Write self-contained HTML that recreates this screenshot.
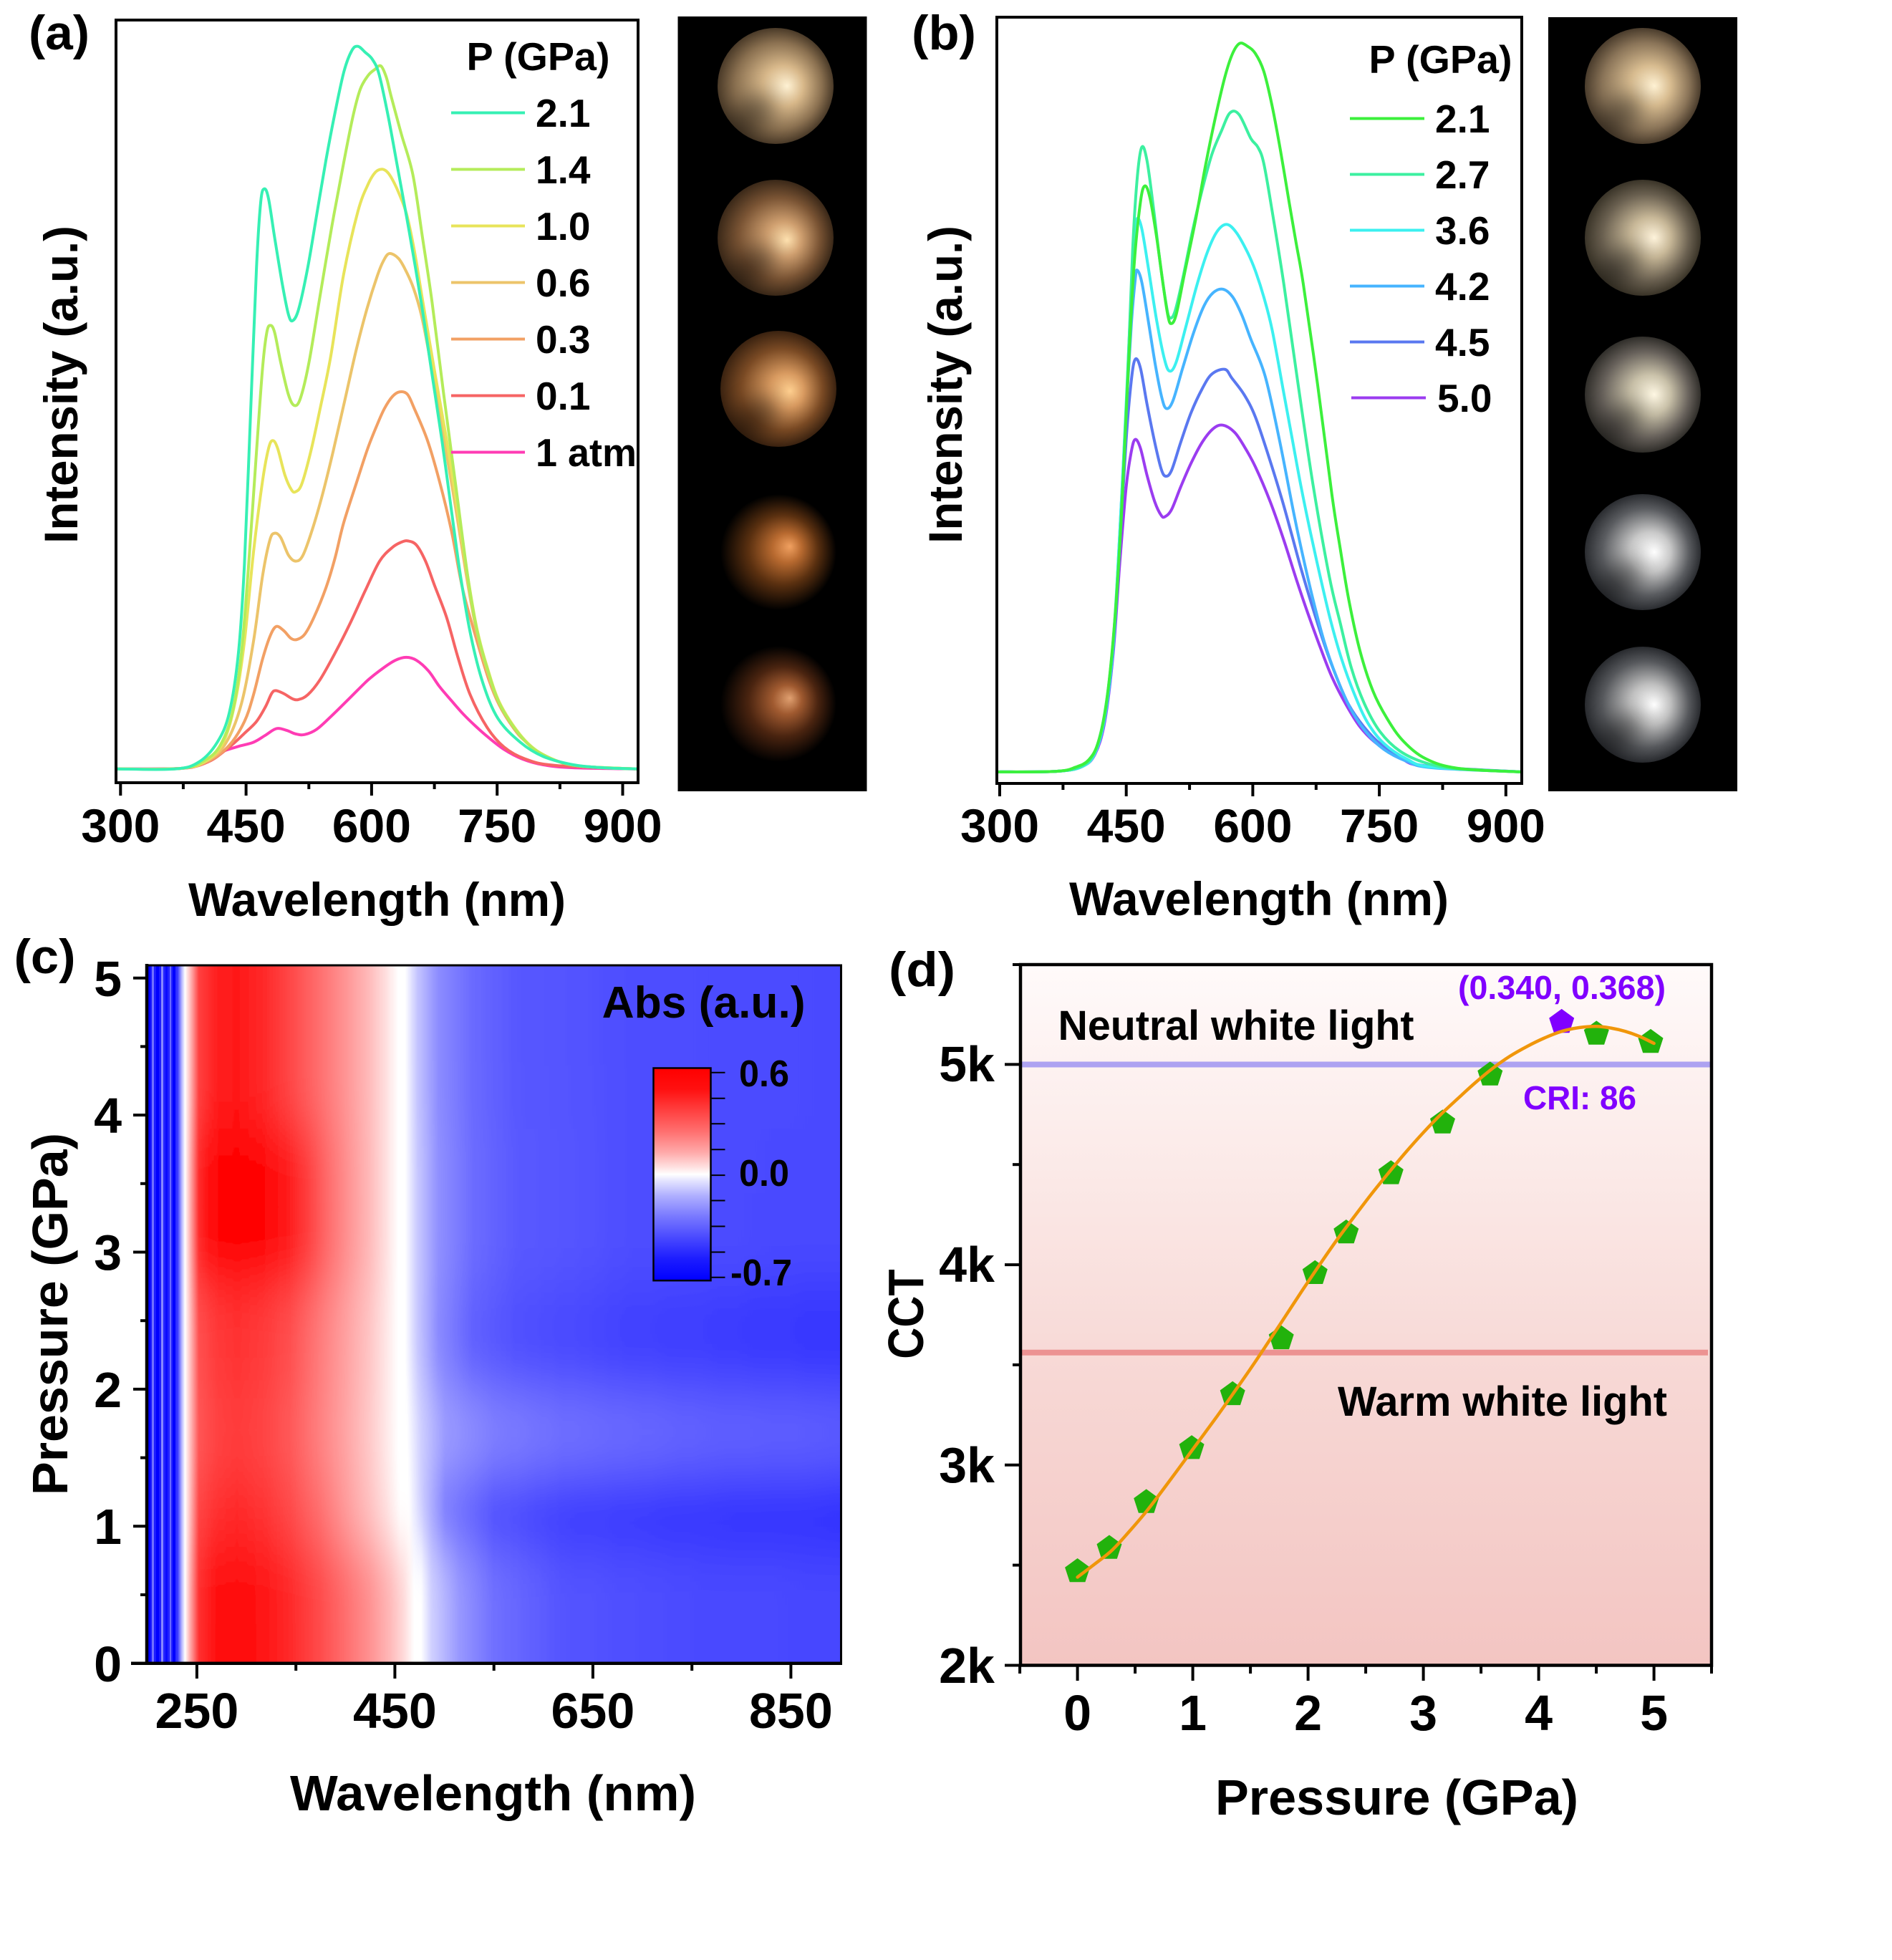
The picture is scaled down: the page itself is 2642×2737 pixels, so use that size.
<!DOCTYPE html>
<html><head><meta charset="utf-8"><style>
html,body{margin:0;padding:0;background:#fff;}
svg{display:block;}
text{font-family:"Liberation Sans",Arial,sans-serif;font-weight:bold;fill:#000;}
</style></head><body>
<svg xmlns="http://www.w3.org/2000/svg" width="2642" height="2737" viewBox="0 0 2642 2737">
<defs>
<clipPath id="clipA"><rect x="162" y="28" width="729" height="1065"/></clipPath>
<clipPath id="clipB"><rect x="1392" y="24" width="733" height="1070"/></clipPath>
<clipPath id="clipC"><rect x="205" y="1348" width="969.5" height="975"/></clipPath>
<clipPath id="clipD"><rect x="1425" y="1347" width="965" height="978"/></clipPath>
<filter id="vb" filterUnits="userSpaceOnUse" x="150" y="1100" width="1100" height="1450"><feGaussianBlur stdDeviation="0 40"/></filter>
<filter id="sb" x="-50%" y="-50%" width="200%" height="200%"><feGaussianBlur stdDeviation="14"/></filter>

<linearGradient id="gTop" x1="0" y1="0" x2="1" y2="0">
<stop offset="0" stop-color="#1a1aff"/><stop offset="0.035" stop-color="#2424ff"/><stop offset="0.044" stop-color="#3232ff"/><stop offset="0.05" stop-color="#b0b0ff"/><stop offset="0.055" stop-color="#ffffff"/><stop offset="0.062" stop-color="#ffc0c0"/><stop offset="0.075" stop-color="#ff4040"/><stop offset="0.1" stop-color="#ff2020"/><stop offset="0.13" stop-color="#ff1818"/><stop offset="0.17" stop-color="#ff2a2a"/><stop offset="0.207" stop-color="#ff4848"/><stop offset="0.25" stop-color="#ff7070"/><stop offset="0.286" stop-color="#ff9494"/><stop offset="0.32" stop-color="#ffbaba"/><stop offset="0.345" stop-color="#ffe0e0"/><stop offset="0.362" stop-color="#ffffff"/><stop offset="0.372" stop-color="#ffffff"/><stop offset="0.39" stop-color="#c4c4ff"/><stop offset="0.42" stop-color="#8c8cff"/><stop offset="0.47" stop-color="#6a6aff"/><stop offset="0.53" stop-color="#5858ff"/><stop offset="0.7" stop-color="#4e4eff"/><stop offset="1" stop-color="#4a4aff"/>
</linearGradient>
<linearGradient id="gStrong" x1="0" y1="0" x2="1" y2="0">
<stop offset="0" stop-color="#1a1aff"/><stop offset="0.035" stop-color="#2424ff"/><stop offset="0.044" stop-color="#3232ff"/><stop offset="0.05" stop-color="#b0b0ff"/><stop offset="0.055" stop-color="#ffffff"/><stop offset="0.062" stop-color="#ffb4b4"/><stop offset="0.075" stop-color="#ff2c2c"/><stop offset="0.09" stop-color="#ff0e0e"/><stop offset="0.11" stop-color="#ff0202"/><stop offset="0.16" stop-color="#ff0000"/><stop offset="0.2" stop-color="#ff1818"/><stop offset="0.23" stop-color="#ff3c3c"/><stop offset="0.26" stop-color="#ff6a6a"/><stop offset="0.29" stop-color="#ff9292"/><stop offset="0.32" stop-color="#ffb8b8"/><stop offset="0.345" stop-color="#ffe0e0"/><stop offset="0.362" stop-color="#ffffff"/><stop offset="0.372" stop-color="#ffffff"/><stop offset="0.39" stop-color="#c8c8ff"/><stop offset="0.42" stop-color="#9090ff"/><stop offset="0.47" stop-color="#6c6cff"/><stop offset="0.53" stop-color="#5a5aff"/><stop offset="0.7" stop-color="#4e4eff"/><stop offset="1" stop-color="#4848ff"/>
</linearGradient>
<linearGradient id="gMidDark" x1="0" y1="0" x2="1" y2="0">
<stop offset="0" stop-color="#1a1aff"/><stop offset="0.035" stop-color="#2424ff"/><stop offset="0.044" stop-color="#3232ff"/><stop offset="0.05" stop-color="#b0b0ff"/><stop offset="0.055" stop-color="#ffffff"/><stop offset="0.062" stop-color="#ffc4c4"/><stop offset="0.075" stop-color="#ff5050"/><stop offset="0.1" stop-color="#ff3a3a"/><stop offset="0.13" stop-color="#ff3232"/><stop offset="0.17" stop-color="#ff3c3c"/><stop offset="0.207" stop-color="#ff5050"/><stop offset="0.25" stop-color="#ff7c7c"/><stop offset="0.286" stop-color="#ffa0a0"/><stop offset="0.32" stop-color="#ffc4c4"/><stop offset="0.345" stop-color="#ffe6e6"/><stop offset="0.362" stop-color="#ffffff"/><stop offset="0.372" stop-color="#ffffff"/><stop offset="0.39" stop-color="#c8c8ff"/><stop offset="0.42" stop-color="#8a8aff"/><stop offset="0.47" stop-color="#6060ff"/><stop offset="0.53" stop-color="#5050ff"/><stop offset="0.7" stop-color="#4040ff"/><stop offset="1" stop-color="#3434ff"/>
</linearGradient>
<linearGradient id="gMidLight" x1="0" y1="0" x2="1" y2="0">
<stop offset="0" stop-color="#1a1aff"/><stop offset="0.035" stop-color="#2424ff"/><stop offset="0.044" stop-color="#3232ff"/><stop offset="0.05" stop-color="#b0b0ff"/><stop offset="0.055" stop-color="#ffffff"/><stop offset="0.062" stop-color="#ffc4c4"/><stop offset="0.075" stop-color="#ff5656"/><stop offset="0.1" stop-color="#ff4444"/><stop offset="0.13" stop-color="#ff3c3c"/><stop offset="0.17" stop-color="#ff4646"/><stop offset="0.207" stop-color="#ff5a5a"/><stop offset="0.25" stop-color="#ff8282"/><stop offset="0.286" stop-color="#ffa4a4"/><stop offset="0.32" stop-color="#ffc8c8"/><stop offset="0.345" stop-color="#ffe8e8"/><stop offset="0.362" stop-color="#ffffff"/><stop offset="0.375" stop-color="#ffffff"/><stop offset="0.395" stop-color="#d0d0ff"/><stop offset="0.43" stop-color="#9c9cff"/><stop offset="0.5" stop-color="#8080ff"/><stop offset="0.6" stop-color="#7070ff"/><stop offset="0.8" stop-color="#6262ff"/><stop offset="1" stop-color="#5c5cff"/>
</linearGradient>
<linearGradient id="gDark" x1="0" y1="0" x2="1" y2="0">
<stop offset="0" stop-color="#1a1aff"/><stop offset="0.035" stop-color="#2424ff"/><stop offset="0.044" stop-color="#3232ff"/><stop offset="0.05" stop-color="#b0b0ff"/><stop offset="0.055" stop-color="#ffffff"/><stop offset="0.062" stop-color="#ffc0c0"/><stop offset="0.075" stop-color="#ff4444"/><stop offset="0.1" stop-color="#ff3030"/><stop offset="0.13" stop-color="#ff2828"/><stop offset="0.17" stop-color="#ff3434"/><stop offset="0.207" stop-color="#ff4a4a"/><stop offset="0.25" stop-color="#ff7070"/><stop offset="0.286" stop-color="#ff9a9a"/><stop offset="0.32" stop-color="#ffc0c0"/><stop offset="0.345" stop-color="#ffe0e0"/><stop offset="0.365" stop-color="#ffffff"/><stop offset="0.378" stop-color="#ffffff"/><stop offset="0.4" stop-color="#c0c0ff"/><stop offset="0.43" stop-color="#7878ff"/><stop offset="0.5" stop-color="#4c4cff"/><stop offset="0.6" stop-color="#3a3aff"/><stop offset="0.8" stop-color="#3030ff"/><stop offset="1" stop-color="#2c2cff"/>
</linearGradient>
<linearGradient id="gBottom" x1="0" y1="0" x2="1" y2="0">
<stop offset="0" stop-color="#1a1aff"/><stop offset="0.035" stop-color="#2424ff"/><stop offset="0.044" stop-color="#3232ff"/><stop offset="0.05" stop-color="#b0b0ff"/><stop offset="0.055" stop-color="#ffffff"/><stop offset="0.062" stop-color="#ffb0b0"/><stop offset="0.075" stop-color="#ff3030"/><stop offset="0.1" stop-color="#ff1010"/><stop offset="0.13" stop-color="#ff0808"/><stop offset="0.17" stop-color="#ff1616"/><stop offset="0.207" stop-color="#ff2a2a"/><stop offset="0.25" stop-color="#ff4c4c"/><stop offset="0.286" stop-color="#ff6e6e"/><stop offset="0.32" stop-color="#ff9090"/><stop offset="0.35" stop-color="#ffb8b8"/><stop offset="0.37" stop-color="#ffdada"/><stop offset="0.385" stop-color="#ffffff"/><stop offset="0.395" stop-color="#ffffff"/><stop offset="0.41" stop-color="#d0d0ff"/><stop offset="0.45" stop-color="#9898ff"/><stop offset="0.5" stop-color="#7070ff"/><stop offset="0.6" stop-color="#5454ff"/><stop offset="0.8" stop-color="#4a4aff"/><stop offset="1" stop-color="#4646ff"/>
</linearGradient>

<linearGradient id="cbar" x1="0" y1="0" x2="0" y2="1">
<stop offset="0" stop-color="#ff0000"/><stop offset="0.1" stop-color="#ff1010"/><stop offset="0.2" stop-color="#ff4040"/><stop offset="0.3" stop-color="#ff7070"/><stop offset="0.4" stop-color="#ffacac"/><stop offset="0.47" stop-color="#ffe4e4"/><stop offset="0.5" stop-color="#ffffff"/><stop offset="0.53" stop-color="#e4e4ff"/><stop offset="0.6" stop-color="#b0b0ff"/><stop offset="0.7" stop-color="#7878ff"/><stop offset="0.8" stop-color="#4848ff"/><stop offset="0.9" stop-color="#1c1cff"/><stop offset="1" stop-color="#0000ff"/>
</linearGradient>

<linearGradient id="dbg" x1="0" y1="0" x2="0" y2="1">
<stop offset="0" stop-color="#fffafa"/><stop offset="0.3" stop-color="#fbe9e7"/><stop offset="0.6" stop-color="#f7d7d4"/><stop offset="1" stop-color="#f3c5c2"/>
</linearGradient>

<radialGradient id="pa1" cx="0.5" cy="0.5" r="0.5" fx="0.6" fy="0.5"><stop offset="0" stop-color="#fff2d4"/><stop offset="0.35" stop-color="#d8b88a"/><stop offset="0.75" stop-color="#8a7050"/><stop offset="1" stop-color="#4a3a28"/></radialGradient>
<radialGradient id="pa2" cx="0.5" cy="0.5" r="0.5" fx="0.6" fy="0.52"><stop offset="0" stop-color="#ffe2b0"/><stop offset="0.3" stop-color="#d0a070"/><stop offset="0.7" stop-color="#7a5434"/><stop offset="1" stop-color="#3a2818"/></radialGradient>
<radialGradient id="pa3" cx="0.5" cy="0.5" r="0.5" fx="0.6" fy="0.52"><stop offset="0" stop-color="#ffd090"/><stop offset="0.3" stop-color="#d89a60"/><stop offset="0.7" stop-color="#7a4a24"/><stop offset="1" stop-color="#3a2210"/></radialGradient>
<radialGradient id="pa4" cx="0.5" cy="0.5" r="0.5" fx="0.6" fy="0.45"><stop offset="0" stop-color="#f0a060"/><stop offset="0.25" stop-color="#b86a30"/><stop offset="0.6" stop-color="#5a3010"/><stop offset="1" stop-color="#000000"/></radialGradient>
<radialGradient id="pa5" cx="0.5" cy="0.5" r="0.5" fx="0.6" fy="0.45"><stop offset="0" stop-color="#e0a070"/><stop offset="0.25" stop-color="#a05a30"/><stop offset="0.6" stop-color="#4a2410"/><stop offset="1" stop-color="#000000"/></radialGradient>
<radialGradient id="pb1" cx="0.5" cy="0.5" r="0.5" fx="0.6" fy="0.5"><stop offset="0" stop-color="#fff2d4"/><stop offset="0.35" stop-color="#d8bc90"/><stop offset="0.75" stop-color="#8a7458"/><stop offset="1" stop-color="#4a3c2c"/></radialGradient>
<radialGradient id="pb2" cx="0.5" cy="0.5" r="0.5" fx="0.6" fy="0.5"><stop offset="0" stop-color="#fff4dc"/><stop offset="0.35" stop-color="#c8b898"/><stop offset="0.75" stop-color="#6a6050"/><stop offset="1" stop-color="#3a3428"/></radialGradient>
<radialGradient id="pb3" cx="0.5" cy="0.5" r="0.5" fx="0.6" fy="0.5"><stop offset="0" stop-color="#fff8e4"/><stop offset="0.35" stop-color="#c8c0a8"/><stop offset="0.75" stop-color="#66605a"/><stop offset="1" stop-color="#302e2a"/></radialGradient>
<radialGradient id="pb4" cx="0.5" cy="0.5" r="0.5" fx="0.6" fy="0.5"><stop offset="0" stop-color="#ffffff"/><stop offset="0.35" stop-color="#c8c8c8"/><stop offset="0.75" stop-color="#5a5c60"/><stop offset="1" stop-color="#2a2c30"/></radialGradient>
<radialGradient id="pb5" cx="0.5" cy="0.5" r="0.5" fx="0.6" fy="0.5"><stop offset="0" stop-color="#ffffff"/><stop offset="0.35" stop-color="#c0c0c0"/><stop offset="0.75" stop-color="#56585c"/><stop offset="1" stop-color="#282a2e"/></radialGradient>

<path id="pg" d="M0,-18.4 L17.5,-5.7 L10.8,14.9 L-10.8,14.9 L-17.5,-5.7Z"/>
</defs>

<rect x="0" y="0" width="2642" height="2737" fill="#fff"/>

<!-- ============ PANEL A ============ -->
<g clip-path="url(#clipA)">
<g transform="matrix(0.84282 0 0 0.82919 0 0)" fill="none" stroke-width="4" stroke-linejoin="round" stroke-linecap="round">
<polyline class="sm" vector-effect="non-scaling-stroke" stroke="#ff3cb4" points="193,1295 300,1294 330,1288 350,1275 370,1265 395,1257 420,1250 440,1238 458,1227 475,1230 490,1236 505,1237 525,1228 550,1205 580,1175 610,1145 635,1125 655,1112 673,1107 690,1112 710,1130 728,1156 748,1180 767,1202 787,1222 807,1240 835,1262 865,1278 900,1288 950,1293 1058,1295"/>
<polyline class="sm" vector-effect="non-scaling-stroke" stroke="#f66464" points="193,1295 300,1294 345,1283 380,1258 405,1235 425,1215 440,1190 450,1168 457,1163 470,1168 485,1177 495,1178 510,1170 530,1145 555,1100 580,1050 605,995 629,945 650,922 665,913 676,911 690,918 705,945 720,986 740,1040 759,1108 779,1170 807,1225 835,1258 870,1278 920,1289 1058,1295"/>
<polyline class="sm" vector-effect="non-scaling-stroke" stroke="#f2a064" points="193,1295 300,1294 345,1282 380,1255 405,1215 420,1170 435,1110 448,1070 458,1055 470,1062 482,1075 492,1077 505,1068 520,1040 540,990 555,940 569,882 590,815 609,756 625,715 637,688 650,668 662,660 675,664 686,687 708,741 728,810 748,894 767,994 791,1082 810,1145 827,1187 850,1225 870,1248 905,1274 960,1290 1058,1295"/>
<polyline class="sm" vector-effect="non-scaling-stroke" stroke="#ecc46a" points="193,1295 300,1294 345,1280 375,1250 400,1185 420,1080 435,970 447,910 455,898 465,905 478,935 490,945 502,935 518,890 535,830 552,760 570,680 590,590 608,520 625,465 635,440 645,427 660,435 672,455 685,485 698,530 712,602 736,741 755,856 772,965 788,1055 805,1122 828,1186 868,1246 910,1276 960,1290 1058,1295"/>
<polyline class="sm" vector-effect="non-scaling-stroke" stroke="#e8e45a" points="193,1295 300,1294 340,1282 370,1250 390,1180 405,1080 420,930 435,810 445,755 452,742 460,755 472,800 483,825 490,828 500,815 515,760 530,690 548,600 569,464 593,356 610,310 622,290 632,285 641,289 650,302 662,328 674,362 687,425 700,505 720,625 740,741 757,850 775,971 790,1058 807,1123 830,1188 870,1247 910,1276 960,1290 1058,1295"/>
<polyline class="sm" vector-effect="non-scaling-stroke" stroke="#b4ec5a" points="193,1295 300,1294 340,1280 365,1255 385,1200 400,1100 412,950 425,760 435,620 442,560 448,548 455,560 465,610 478,665 488,683 498,670 512,610 530,500 550,380 570,271 585,195 597,150 610,127 621,117 631,111 640,130 648,162 665,226 684,294 700,400 716,510 735,663 755,817 775,971 790,1060 807,1125 830,1190 870,1248 910,1276 960,1290 1058,1295"/>
<polyline class="sm" vector-effect="non-scaling-stroke" stroke="#36f0b4" points="193,1295 290,1295 330,1283 360,1250 380,1200 395,1100 405,950 415,700 425,450 432,340 438,318 445,335 455,400 468,480 478,530 485,540 495,520 510,450 525,360 540,270 555,190 570,120 583,85 593,78 605,88 617,100 628,125 643,195 658,278 678,390 698,510 715,625 732,740 748,860 763,970 780,1070 800,1150 825,1210 862,1250 900,1274 950,1288 1000,1293 1058,1295"/>
</g>
</g>
<rect x="162" y="28" width="729" height="1065" fill="none" stroke="#000" stroke-width="4"/>
<g stroke="#000" stroke-width="4">
<line x1="168.3" y1="1093" x2="168.3" y2="1111"/><line x1="255.9" y1="1093" x2="255.9" y2="1102"/>
<line x1="343.6" y1="1093" x2="343.6" y2="1111"/><line x1="431.3" y1="1093" x2="431.3" y2="1102"/>
<line x1="518.9" y1="1093" x2="518.9" y2="1111"/><line x1="606.6" y1="1093" x2="606.6" y2="1102"/>
<line x1="694.2" y1="1093" x2="694.2" y2="1111"/><line x1="781.9" y1="1093" x2="781.9" y2="1102"/>
<line x1="869.5" y1="1093" x2="869.5" y2="1111"/>
</g>
<g font-size="66" text-anchor="middle">
<text x="168.3" y="1176">300</text><text x="343.6" y="1176">450</text><text x="518.9" y="1176">600</text><text x="694.2" y="1176">750</text><text x="869.5" y="1176">900</text>
</g>
<text x="263" y="1279" font-size="66" textLength="527" lengthAdjust="spacingAndGlyphs">Wavelength (nm)</text>
<text transform="translate(108,537) rotate(-90)" x="-222" y="0" font-size="66" textLength="444" lengthAdjust="spacingAndGlyphs">Intensity (a.u.)</text>
<text x="40" y="69" font-size="68" textLength="85" lengthAdjust="spacingAndGlyphs">(a)</text>
<!-- legend a -->
<text x="651.5" y="98" font-size="55" textLength="200" lengthAdjust="spacingAndGlyphs">P (GPa)</text>
<g stroke-width="4">
<line x1="630" y1="157.5" x2="733" y2="157.5" stroke="#36f0b4"/>
<line x1="630" y1="236.5" x2="733" y2="236.5" stroke="#b4ec5a"/>
<line x1="630" y1="315.5" x2="733" y2="315.5" stroke="#e8e45a"/>
<line x1="630" y1="394.5" x2="733" y2="394.5" stroke="#ecc46a"/>
<line x1="630" y1="473.5" x2="733" y2="473.5" stroke="#f2a064"/>
<line x1="630" y1="552.5" x2="733" y2="552.5" stroke="#f66464"/>
<line x1="630" y1="631.5" x2="733" y2="631.5" stroke="#ff3cb4"/>
</g>
<g font-size="55">
<text x="748" y="177">2.1</text><text x="748" y="256">1.4</text><text x="748" y="335">1.0</text><text x="748" y="414">0.6</text><text x="748" y="493">0.3</text><text x="748" y="572">0.1</text><text x="748" y="651" textLength="141" lengthAdjust="spacingAndGlyphs">1 atm</text>
</g>
<!-- photo a -->
<rect x="946.5" y="23" width="264" height="1082" fill="#000"/>
<circle cx="1083" cy="120" r="81" fill="url(#pa1)"/>
<circle cx="1083" cy="332" r="81" fill="url(#pa2)"/>
<circle cx="1087" cy="543" r="81" fill="url(#pa3)"/>
<circle cx="1087" cy="771" r="81" fill="url(#pa4)"/>
<circle cx="1087" cy="983" r="81" fill="url(#pa5)"/>
<g fill="#000" opacity="0.35" filter="url(#sb)">
<ellipse cx="1050" cy="160" rx="38" ry="24" transform="rotate(-40 1050 160)"/>
<ellipse cx="1050" cy="372" rx="38" ry="24" transform="rotate(-40 1050 372)"/>
<ellipse cx="1054" cy="583" rx="38" ry="24" transform="rotate(-40 1054 583)"/>
</g>

<!-- ============ PANEL B ============ -->
<g clip-path="url(#clipB)">
<g transform="matrix(0.90621 0 0 0.82919 1221 0)" fill="none" stroke-width="4" stroke-linejoin="round" stroke-linecap="round">
<polyline class="sm" vector-effect="non-scaling-stroke" stroke="#9b3cf0" points="189,1300 280,1299 320,1291 340,1270 355,1215 368,1100 378,950 388,820 396,760 402,740 410,755 420,800 432,845 442,868 448,870 458,858 472,820 488,780 505,745 522,722 537,716 555,728 570,752 587,786 610,845 631,910 650,975 668,1033 687,1090 705,1140 727,1187 749,1225 775,1253 810,1276 850,1291 998,1300"/>
<polyline class="sm" vector-effect="non-scaling-stroke" stroke="#5a78f0" points="189,1300 280,1299 320,1291 340,1268 355,1210 368,1095 378,920 388,740 396,640 402,605 410,620 420,680 432,745 442,790 449,802 458,792 472,745 488,695 505,655 520,630 540,622 551,637 570,665 587,702 608,770 628,841 643,900 657,956 675,1022 694,1087 712,1140 731,1187 755,1225 780,1253 810,1273 850,1290 998,1300"/>
<polyline class="sm" vector-effect="non-scaling-stroke" stroke="#46b4ff" points="189,1300 280,1299 320,1291 340,1268 355,1210 368,1090 378,900 388,690 396,545 402,470 405,455 412,475 422,540 433,615 443,670 450,688 460,675 475,620 492,560 508,515 522,493 537,487 552,500 566,530 580,571 602,633 624,740 646,863 660,935 676,1010 693,1080 712,1140 733,1192 757,1232 785,1262 820,1282 860,1293 998,1300"/>
<polyline class="sm" vector-effect="non-scaling-stroke" stroke="#3cf0f0" points="189,1300 280,1299 320,1291 340,1268 355,1205 368,1080 378,900 388,680 396,490 402,400 405,368 412,385 422,450 435,540 447,605 455,625 465,610 480,550 497,480 513,425 528,390 543,378 558,392 575,425 587,456 600,500 613,556 631,663 644,740 657,817 672,897 687,971 703,1045 720,1110 740,1170 760,1217 785,1252 820,1278 860,1292 998,1300"/>
<polyline class="sm" vector-effect="non-scaling-stroke" stroke="#3cf0a0" points="189,1300 280,1299 320,1290 340,1265 355,1200 368,1080 380,880 390,640 398,420 405,300 412,248 420,270 430,350 440,440 450,515 455,535 463,525 475,470 490,390 505,320 520,260 535,220 548,190 562,193 580,233 591,248 600,275 613,356 631,479 653,648 676,817 701,971 718,1050 735,1125 755,1185 779,1232 810,1265 850,1285 900,1295 998,1300"/>
<polyline class="sm" vector-effect="non-scaling-stroke" stroke="#3cf03c" points="189,1300 280,1299 310,1292 330,1280 345,1250 358,1180 370,1050 380,880 390,650 400,450 410,340 417,313 425,335 435,400 445,480 452,530 457,545 465,530 478,460 495,370 510,280 525,200 540,130 552,90 563,73 575,78 587,90 600,120 613,179 626,255 639,340 650,410 661,479 683,648 705,833 718,925 731,1010 748,1095 768,1163 790,1210 815,1248 850,1278 900,1294 998,1300"/>
</g>
</g>
<rect x="1392" y="24" width="733" height="1070" fill="none" stroke="#000" stroke-width="4"/>
<g stroke="#000" stroke-width="4">
<line x1="1396" y1="1094" x2="1396" y2="1112"/><line x1="1484.4" y1="1094" x2="1484.4" y2="1103"/>
<line x1="1572.7" y1="1094" x2="1572.7" y2="1112"/><line x1="1661.1" y1="1094" x2="1661.1" y2="1103"/>
<line x1="1749.4" y1="1094" x2="1749.4" y2="1112"/><line x1="1837.8" y1="1094" x2="1837.8" y2="1103"/>
<line x1="1926.1" y1="1094" x2="1926.1" y2="1112"/><line x1="2014.5" y1="1094" x2="2014.5" y2="1103"/>
<line x1="2102.8" y1="1094" x2="2102.8" y2="1112"/>
</g>
<g font-size="66" text-anchor="middle">
<text x="1396" y="1176">300</text><text x="1572.7" y="1176">450</text><text x="1749.4" y="1176">600</text><text x="1926.1" y="1176">750</text><text x="2102.8" y="1176">900</text>
</g>
<text x="1493" y="1278" font-size="66" textLength="530" lengthAdjust="spacingAndGlyphs">Wavelength (nm)</text>
<text transform="translate(1343,537) rotate(-90)" x="-222" y="0" font-size="66" textLength="444" lengthAdjust="spacingAndGlyphs">Intensity (a.u.)</text>
<text x="1273" y="69" font-size="68" textLength="90" lengthAdjust="spacingAndGlyphs">(b)</text>
<!-- legend b -->
<text x="1911.5" y="102" font-size="55" textLength="200" lengthAdjust="spacingAndGlyphs">P (GPa)</text>
<g stroke-width="4">
<line x1="1885" y1="165.5" x2="1989" y2="165.5" stroke="#3cf03c"/>
<line x1="1885" y1="243.5" x2="1989" y2="243.5" stroke="#3cf0a0"/>
<line x1="1885" y1="321.5" x2="1989" y2="321.5" stroke="#3cf0f0"/>
<line x1="1885" y1="399.5" x2="1989" y2="399.5" stroke="#46b4ff"/>
<line x1="1885" y1="477.5" x2="1989" y2="477.5" stroke="#5a78f0"/>
<line x1="1887" y1="555.5" x2="1991" y2="555.5" stroke="#9b3cf0"/>
</g>
<g font-size="55">
<text x="2004" y="185">2.1</text><text x="2004" y="263">2.7</text><text x="2004" y="341">3.6</text><text x="2004" y="419">4.2</text><text x="2004" y="497">4.5</text><text x="2007" y="575">5.0</text>
</g>
<!-- photo b -->
<rect x="2162" y="24" width="264" height="1081" fill="#000"/>
<circle cx="2294" cy="120" r="81" fill="url(#pb1)"/>
<circle cx="2294" cy="332" r="81" fill="url(#pb2)"/>
<circle cx="2294" cy="551" r="81" fill="url(#pb3)"/>
<circle cx="2294" cy="771" r="81" fill="url(#pb4)"/>
<circle cx="2294" cy="984" r="81" fill="url(#pb5)"/>
<g fill="#000" opacity="0.35" filter="url(#sb)">
<ellipse cx="2262" cy="160" rx="38" ry="24" transform="rotate(-40 2262 160)"/>
<ellipse cx="2262" cy="372" rx="38" ry="24" transform="rotate(-40 2262 372)"/>
<ellipse cx="2262" cy="591" rx="38" ry="24" transform="rotate(-40 2262 591)"/>
<ellipse cx="2262" cy="811" rx="38" ry="24" transform="rotate(-40 2262 811)"/>
<ellipse cx="2262" cy="1024" rx="38" ry="24" transform="rotate(-40 2262 1024)"/>
</g>

<!-- ============ PANEL C ============ -->
<g clip-path="url(#clipC)">
<g filter="url(#vb)">
<rect x="205" y="1200" width="969.5" height="377" fill="url(#gTop)"/>
<rect x="205" y="1576" width="969.5" height="221" fill="url(#gStrong)"/>
<rect x="205" y="1796" width="969.5" height="145" fill="url(#gMidDark)"/>
<rect x="205" y="1940" width="969.5" height="125" fill="url(#gMidLight)"/>
<rect x="205" y="2064" width="969.5" height="97" fill="url(#gDark)"/>
<rect x="205" y="2160" width="969.5" height="320" fill="url(#gBottom)"/>
</g>
<g>
<rect x="206" y="1348" width="4" height="975" fill="#0000ff"/>
<rect x="212" y="1348" width="3" height="975" fill="#7070ff"/>
<rect x="218" y="1348" width="4" height="975" fill="#0000ff"/>
<rect x="225" y="1348" width="3" height="975" fill="#8888ff"/>
<rect x="231" y="1348" width="3" height="975" fill="#0a0aff"/>
<rect x="237" y="1348" width="2" height="975" fill="#6a6aff"/>
<rect x="241" y="1348" width="4" height="975" fill="#0000ff"/>
</g>
</g>
<rect x="205" y="1348" width="969.5" height="975" fill="none" stroke="#000" stroke-width="3"/>
<line x1="205" y1="1346" x2="205" y2="2325" stroke="#000" stroke-width="4.5"/>
<line x1="183" y1="2322.7" x2="1176" y2="2322.7" stroke="#000" stroke-width="4.5"/>
<g stroke="#000" stroke-width="4">
<line x1="186" y1="2322.7" x2="205" y2="2322.7"/><line x1="196" y1="2227" x2="205" y2="2227"/>
<line x1="186" y1="2131.3" x2="205" y2="2131.3"/><line x1="196" y1="2035.6" x2="205" y2="2035.6"/>
<line x1="186" y1="1939.9" x2="205" y2="1939.9"/><line x1="196" y1="1844.2" x2="205" y2="1844.2"/>
<line x1="186" y1="1748.5" x2="205" y2="1748.5"/><line x1="196" y1="1652.8" x2="205" y2="1652.8"/>
<line x1="186" y1="1557.1" x2="205" y2="1557.1"/><line x1="196" y1="1461.4" x2="205" y2="1461.4"/>
<line x1="186" y1="1365.7" x2="205" y2="1365.7"/>
<line x1="274.9" y1="2322.7" x2="274.9" y2="2344"/><line x1="413.2" y1="2322.7" x2="413.2" y2="2333"/>
<line x1="551.4" y1="2322.7" x2="551.4" y2="2344"/><line x1="689.7" y1="2322.7" x2="689.7" y2="2333"/>
<line x1="827.9" y1="2322.7" x2="827.9" y2="2344"/><line x1="966.2" y1="2322.7" x2="966.2" y2="2333"/>
<line x1="1104.4" y1="2322.7" x2="1104.4" y2="2344"/>
</g>
<g font-size="70" text-anchor="end">
<text x="170" y="2348">0</text><text x="170" y="2156">1</text><text x="170" y="1965">2</text><text x="170" y="1773">3</text><text x="170" y="1582">4</text><text x="170" y="1391">5</text>
</g>
<g font-size="70" text-anchor="middle">
<text x="274.9" y="2413">250</text><text x="551.4" y="2413">450</text><text x="827.9" y="2413">650</text><text x="1104.4" y="2413">850</text>
</g>
<text x="405" y="2528" font-size="70" textLength="567" lengthAdjust="spacingAndGlyphs">Wavelength (nm)</text>
<text transform="translate(94,1835) rotate(-90)" x="-253" y="0" font-size="70" textLength="506" lengthAdjust="spacingAndGlyphs">Pressure (GPa)</text>
<text x="19.5" y="1359" font-size="68" textLength="86" lengthAdjust="spacingAndGlyphs">(c)</text>
<text x="840.6" y="1421" font-size="62" textLength="284" lengthAdjust="spacingAndGlyphs">Abs (a.u.)</text>
<!-- colorbar -->
<rect x="912.5" y="1491.5" width="80" height="296.7" fill="url(#cbar)" stroke="#000" stroke-width="2.5"/>
<g stroke="#000" stroke-width="2">
<line x1="992.5" y1="1497.8" x2="1012.5" y2="1497.8"/><line x1="992.5" y1="1533.8" x2="1012.5" y2="1533.8"/>
<line x1="992.5" y1="1569.2" x2="1012.5" y2="1569.2"/><line x1="992.5" y1="1605.2" x2="1012.5" y2="1605.2"/>
<line x1="992.5" y1="1641.1" x2="1012.5" y2="1641.1"/><line x1="992.5" y1="1676.5" x2="1012.5" y2="1676.5"/>
<line x1="992.5" y1="1712.5" x2="1012.5" y2="1712.5"/><line x1="992.5" y1="1748.5" x2="1012.5" y2="1748.5"/>
<line x1="992.5" y1="1783.8" x2="1012.5" y2="1783.8"/>
</g>
<g font-size="52">
<text x="1032" y="1517" textLength="70" lengthAdjust="spacingAndGlyphs">0.6</text>
<text x="1032" y="1656" textLength="70" lengthAdjust="spacingAndGlyphs">0.0</text>
<text x="1020" y="1795" textLength="86" lengthAdjust="spacingAndGlyphs">-0.7</text>
</g>

<!-- ============ PANEL D ============ -->
<rect x="1425" y="1347" width="965" height="978" fill="url(#dbg)"/>
<g clip-path="url(#clipD)">
<line x1="1425" y1="1486.5" x2="2390" y2="1486.5" stroke="#ada2f1" stroke-width="8"/>
<line x1="1425" y1="1888.7" x2="2385" y2="1888.7" stroke="#ec9292" stroke-width="8"/>
</g>
<text x="1477.5" y="1452" font-size="58" textLength="497" lengthAdjust="spacingAndGlyphs">Neutral white light</text>
<text x="1868" y="1977" font-size="58" textLength="460" lengthAdjust="spacingAndGlyphs">Warm white light</text>
<text x="2036" y="1395" font-size="46" style="fill:#8000ff" textLength="290" lengthAdjust="spacingAndGlyphs">(0.340, 0.368)</text>
<text x="2127" y="1549" font-size="46" style="fill:#8000ff" textLength="158" lengthAdjust="spacingAndGlyphs">CRI: 86</text>
<g fill="#22b20c">
<use href="#pg" x="1504.6" y="2194.4"/><use href="#pg" x="1549" y="2161.9"/><use href="#pg" x="1600.7" y="2097.8"/>
<use href="#pg" x="1664.1" y="2022.5"/><use href="#pg" x="1721.2" y="1947.2"/><use href="#pg" x="1789.2" y="1869.2"/>
<use href="#pg" x="1836.3" y="1778.1"/><use href="#pg" x="1879.8" y="1721.4"/><use href="#pg" x="1942.3" y="1638.7"/>
<use href="#pg" x="2014.5" y="1567.8"/><use href="#pg" x="2080.8" y="1500.8"/>
<use href="#pg" x="2229.3" y="1443.8"/><use href="#pg" x="2305" y="1455.3"/>
</g>
<use href="#pg" x="2180.7" y="1427.3" fill="#8000ff"/>
<polyline class="sm" fill="none" stroke="#f0960a" stroke-width="4.5" stroke-linejoin="round" stroke-linecap="round" points="1504.6,2202.4 1528.8,2184 1552.9,2164.7 1577,2138.5 1601.2,2110.1 1625.3,2078.5 1649.5,2045.8 1673.6,2013 1697.8,1980.1 1722,1946 1746.1,1911.5 1770.2,1875.5 1794.4,1838.8 1818.5,1802 1842.7,1766.1 1866.8,1731.5 1891,1699 1915,1667.5 1939.3,1637.4 1963.5,1608.5 1987.6,1581.5 2011.7,1556.5 2035.9,1533.9 2060,1512 2084.2,1492 2108.3,1475 2132.5,1461.2 2156.6,1449.5 2180.8,1440.2 2205,1435 2229.1,1433.2 2249,1435.5 2269.4,1440.2 2290,1447.5 2309.6,1457"/>
<rect x="1425" y="1347" width="965" height="978.5" fill="none" stroke="#000" stroke-width="4.5"/>
<g stroke="#000" stroke-width="4">
<line x1="1403" y1="2325.5" x2="1425" y2="2325.5"/><line x1="1414" y1="2185.6" x2="1425" y2="2185.6"/>
<line x1="1403" y1="2045.8" x2="1425" y2="2045.8"/><line x1="1414" y1="1905.9" x2="1425" y2="1905.9"/>
<line x1="1403" y1="1766.1" x2="1425" y2="1766.1"/><line x1="1414" y1="1626.2" x2="1425" y2="1626.2"/>
<line x1="1403" y1="1486.4" x2="1425" y2="1486.4"/><line x1="1414" y1="1347" x2="1425" y2="1347"/>
<line x1="1424.1" y1="2325.5" x2="1424.1" y2="2337"/>
<line x1="1504.6" y1="2325.5" x2="1504.6" y2="2347"/><line x1="1585.1" y1="2325.5" x2="1585.1" y2="2337"/>
<line x1="1665.6" y1="2325.5" x2="1665.6" y2="2347"/><line x1="1746.1" y1="2325.5" x2="1746.1" y2="2337"/>
<line x1="1826.6" y1="2325.5" x2="1826.6" y2="2347"/><line x1="1907.1" y1="2325.5" x2="1907.1" y2="2337"/>
<line x1="1987.6" y1="2325.5" x2="1987.6" y2="2347"/><line x1="2068.1" y1="2325.5" x2="2068.1" y2="2337"/>
<line x1="2148.6" y1="2325.5" x2="2148.6" y2="2347"/><line x1="2229.1" y1="2325.5" x2="2229.1" y2="2337"/>
<line x1="2309.6" y1="2325.5" x2="2309.6" y2="2347"/><line x1="2390" y1="2325.5" x2="2390" y2="2337"/>
</g>
<g font-size="70" text-anchor="end">
<text x="1389" y="2350">2k</text><text x="1389" y="2070">3k</text><text x="1389" y="1790">4k</text><text x="1389" y="1510">5k</text>
</g>
<g font-size="70" text-anchor="middle">
<text x="1504.6" y="2416">0</text><text x="1665.6" y="2416">1</text><text x="1826.6" y="2416">2</text><text x="1987.6" y="2416">3</text><text x="2148.6" y="2416">4</text><text x="2309.6" y="2416">5</text>
</g>
<text x="1697" y="2534" font-size="70" textLength="507" lengthAdjust="spacingAndGlyphs">Pressure (GPa)</text>
<text transform="translate(1289,1835) rotate(-90)" x="-62.7" y="0" font-size="70" textLength="125.4" lengthAdjust="spacingAndGlyphs">CCT</text>
<text x="1241" y="1377" font-size="68" textLength="93" lengthAdjust="spacingAndGlyphs">(d)</text>
</svg>
<script>
(function(){
var pls=document.querySelectorAll('polyline.sm');
for(var k=0;k<pls.length;k++){
 var pl=pls[k];
 var raw=pl.getAttribute('points').trim().split(/\s+/);
 var pts=[];
 for(var i=0;i<raw.length;i++){var a=raw[i].split(',');pts.push([+a[0],+a[1]]);}
 var d='M'+pts[0][0]+','+pts[0][1];
 for(var i=0;i<pts.length-1;i++){
  var p0=pts[i-1]||pts[i],p1=pts[i],p2=pts[i+1],p3=pts[i+2]||p2;
  var c1x=p1[0]+(p2[0]-p0[0])/6,c1y=p1[1]+(p2[1]-p0[1])/6,c2x=p2[0]-(p3[0]-p1[0])/6,c2y=p2[1]-(p3[1]-p1[1])/6;
  d+=' C'+c1x.toFixed(2)+','+c1y.toFixed(2)+' '+c2x.toFixed(2)+','+c2y.toFixed(2)+' '+p2[0]+','+p2[1];
 }
 var p=document.createElementNS('http://www.w3.org/2000/svg','path');
 for(var j=0;j<pl.attributes.length;j++){var at=pl.attributes[j];if(at.name!=='points'&&at.name!=='class')p.setAttribute(at.name,at.value);}
 p.setAttribute('d',d);
 pl.parentNode.replaceChild(p,pl);
}
})();
</script>
</body></html>
